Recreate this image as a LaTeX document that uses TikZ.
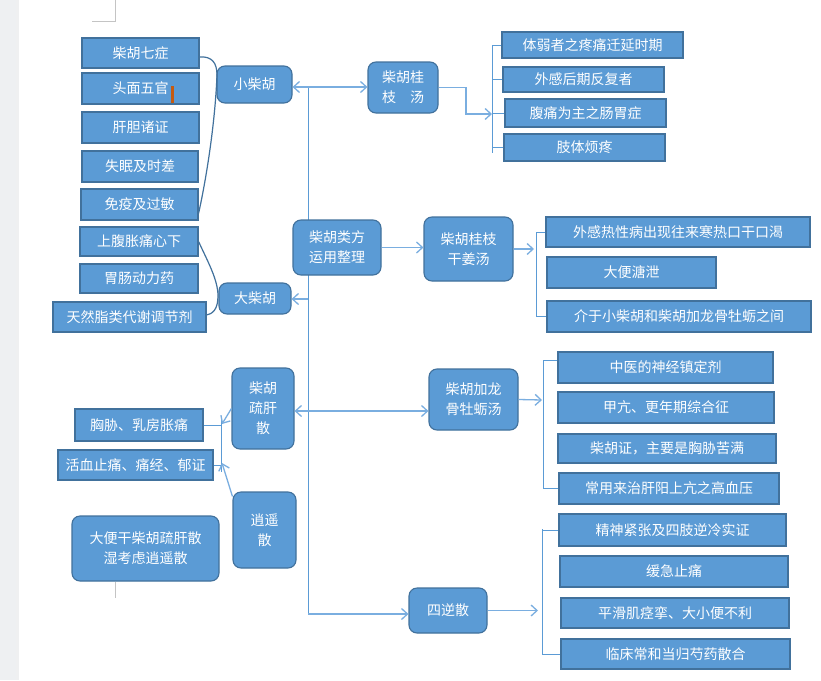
\documentclass[tikz,border=0pt]{standalone}
\usepackage{fontspec}
\setmainfont{Noto Sans CJK SC}
\usetikzlibrary{arrows.meta}
\definecolor{boxblue}{HTML}{5B9BD5}
\definecolor{boxedge}{HTML}{41719C}
\definecolor{linkblue}{HTML}{5B9BD5}
\definecolor{arrblue}{HTML}{7AAEE0}
\definecolor{curvblue}{HTML}{41719C}
\definecolor{pagegray}{HTML}{EEF0F2}
\definecolor{markgray}{HTML}{C4C4C4}
\definecolor{cursorcol}{HTML}{C55A11}
\tikzset{
  base/.style={draw=boxedge, fill=boxblue, text=white, line width=1.1pt, inner sep=0pt,
    font=\fontsize{14}{20}\selectfont, align=center},
  leaf/.style={base},
  hub/.style={base, rounded corners=8pt},
  sz/.style 2 args={minimum width=#1pt, minimum height=#2pt},
  trunkline/.style={draw=linkblue, line width=1pt},
  arr/.style={draw=arrblue, line width=1.3pt, -{Straight Barb[length=6pt,width=11pt]}},
  brk/.style={draw=linkblue, line width=1pt},
  curve/.style={draw=curvblue, line width=1.2pt},
  pagemark/.style={draw=markgray, line width=1pt},
}
\begin{document}
\begin{tikzpicture}[x=1pt,y=-1pt]
\useasboundingbox (0,0) rectangle (821,680);
\fill[white] (0,0) rectangle (821,680);
\fill[pagegray] (0,0) rectangle (17,680);
\fill[pagegray!80!gray!40] (16,0) rectangle (19,680);
% page corner marks
\coordinate (pm1) at (115,0);
\coordinate (pm2) at (115,21);
\coordinate (pm3) at (92,21);
\draw[pagemark] (pm1) -- (pm2) -- (pm3);
\coordinate (pm4) at (115,582);
\coordinate (pm5) at (115,598);
\draw[pagemark] (pm4) -- (pm5);

% trunk
\coordinate (t1) at (308,87);
\coordinate (t2) at (308,614);
\coordinate (t3) at (308,299);
\coordinate (t4) at (308,411);
\draw[trunkline] (t1) -- (t2);

% hubs
\node[hub,sz={88}{55}] (root) at (337,247.5) {柴胡类方\\运用整理};
\node[hub,sz={75}{37}] (xch) at (254.5,84.5) {小柴胡};
\node[hub,sz={72}{31}] (dch) at (255,298.5) {大柴胡};
\node[hub,sz={70}{51}] (gz) at (403,87.5) {柴胡桂\\\makebox[42pt]{枝\hfill 汤}};
\node[hub,sz={89}{64}] (gj) at (468.5,249) {柴胡桂枝\\干姜汤};
\node[hub,sz={62}{81}] (sg) at (263,408.5) {柴胡\\疏肝\\散};
\node[hub,sz={63}{76}] (xy) at (264.5,530) {逍遥\\散};
\node[hub,sz={89}{61}] (ll) at (473.5,399.5) {柴胡加龙\\骨牡蛎汤};
\node[hub,sz={78}{45}] (sn) at (448,610.5) {四逆散};
\node[hub,sz={147}{65}] (note) at (145.5,548.5) {大便干柴胡疏肝散\\湿考虑逍遥散};

% left leaves
\node[leaf,sz={117}{30}] (l1) at (140.5,53) {柴胡七症};
\node[leaf,sz={117}{31}] (l2) at (140.5,88.5) {头面五官};
\node[leaf,sz={117}{31}] (l3) at (140.5,127.5) {肝胆诸证};
\node[leaf,sz={116}{31}] (l4) at (140,166.5) {失眠及时差};
\node[leaf,sz={117}{31}] (l5) at (139.5,204.5) {免疫及过敏};
\node[leaf,sz={118}{29}] (l6) at (139,241.5) {上腹胀痛心下};
\node[leaf,sz={118}{29}] (l7) at (139,278.5) {胃肠动力药};
\node[leaf,sz={153}{30}] (l8) at (129.5,317) {天然脂类代谢调节剂};
\node[leaf,sz={128}{32}] (s1) at (139,425) {胸胁、乳房胀痛};
\node[leaf,sz={155}{30}] (s2) at (135.5,465) {活血止痛、痛经、郁证};
\fill[cursorcol] (171,86) rectangle (173.5,103);

% right leaves
\node[leaf,sz={181}{26}] (g1) at (592.5,45) {体弱者之疼痛迁延时期};
\node[leaf,sz={161}{25}] (g2) at (583.5,79.5) {外感后期反复者};
\node[leaf,sz={161}{28}] (g3) at (585.5,113) {腹痛为主之肠胃症};
\node[leaf,sz={161}{27}] (g4) at (584.5,147.5) {肢体烦疼};
\node[leaf,sz={264}{30}] (j1) at (678,232) {外感热性病出现往来寒热口干口渴};
\node[leaf,sz={169}{31}] (j2) at (631.5,272.5) {大便溏泄};
\node[leaf,sz={264}{31}] (j3) at (679,316.5) {介于小柴胡和柴胡加龙骨牡蛎之间};
\node[leaf,sz={215}{31}] (k1) at (665.5,367.5) {中医的神经镇定剂};
\node[leaf,sz={216}{31}] (k2) at (666,407.5) {甲亢、更年期综合征};
\node[leaf,sz={218}{29}] (k3) at (667,448.5) {柴胡证，主要是胸胁苦满};
\node[leaf,sz={220}{31}] (k4) at (669,488.5) {常用来治肝阳上亢之高血压};
\node[leaf,sz={227}{32}] (n1) at (672.5,530) {精神紧张及四肢逆冷实证};
\node[leaf,sz={228}{31}] (n2) at (674,571.5) {缓急止痛};
\node[leaf,sz={228}{30}] (n3) at (675,613) {平滑肌痉挛、大小便不利};
\node[leaf,sz={229}{30}] (n4) at (675.5,654) {临床常和当归芍药散合};

% trunk arrows
\draw[arr] (t1) -- (t1 -| xch.east);
\draw[arr] (t1) -- (t1 -| gz.west);
\draw[arr] (t3) -- (t3 -| dch.east);
\draw[arr] (t4) -- (t4 -| sg.east);
\draw[arr] (t4) -- (t4 -| ll.west);
\draw[arr] (t2) -- (t2 -| sn.west);
\draw[arr] (root.east) -- (root.east -| gj.west);

% curves to left leaves
\draw[curve] ([yshift=-4pt]l1.east) .. controls (212,56) and (217,63) .. (217,75)
  .. controls (215,125) and (206,180) .. ([yshift=-9pt]l5.east);
\draw[curve] (l6.east) .. controls (208,262) and (218,280) .. (218,296)
  .. controls (218,310) and (212,314) .. ([yshift=2pt]l8.east);

% gz bracket
\coordinate (gzk) at (466,114);
\coordinate (bgx) at (492,0);
\coordinate (bgt) at (492,45);
\coordinate (bgb) at (492,153);
\draw[arr] (gz.east) -| (gzk) -- (gzk -| bgx);
\draw[brk] (bgt) -- (bgb);
\draw[brk] (g1.west) -- (g1.west -| bgx);
\draw[brk] (g2.west) -- (g2.west -| bgx);
\draw[brk] (g3.west) -- (g3.west -| bgx);
\draw[brk] (g4.west) -- (g4.west -| bgx);

% gj bracket
\coordinate (bjx) at (536,0);
\coordinate (gja) at (534,249);
\draw[arr] (gj.east) -- (gja);
\draw[brk] (j1.west) -- (j1.west -| bjx) -- (j3.west -| bjx) -- (j3.west);

% ll bracket
\coordinate (bkx) at (543,0);
\coordinate (lla) at (542,400);
\draw[arr] (ll.east) -- (lla);
\draw[brk] ([yshift=-9pt]k1.north west) -- ([yshift=-9pt]k1.north west -| bkx) -- (k4.west -| bkx) -- (k4.west);

% sn bracket
\coordinate (bnx) at (542,0);
\coordinate (sna) at (538,610.5);
\coordinate (bnt) at (542,529);
\draw[arr] (sn.east) -- (sna);
\draw[brk] (bnt) -- (n4.west -| bnx) -- (n4.west);
\draw[brk] (n1.west) -- (n1.west -| bnx);

% left s bracket
\coordinate (sbt) at (221,417);
\coordinate (sbb) at (221,472);
\coordinate (sga) at (222,424);
\coordinate (xya) at (222,463);
\draw[brk] (sbt) -- (sbb);
\draw[brk] (s1.east) -- (s1.east -| sbt);
\draw[brk] (s2.east) -- (s2.east -| sbt);
\draw[arr] (sg.west) -- (sga);
\draw[arr] ([yshift=-5pt]xy.north west) -- (xya);
\end{tikzpicture}
\end{document}
